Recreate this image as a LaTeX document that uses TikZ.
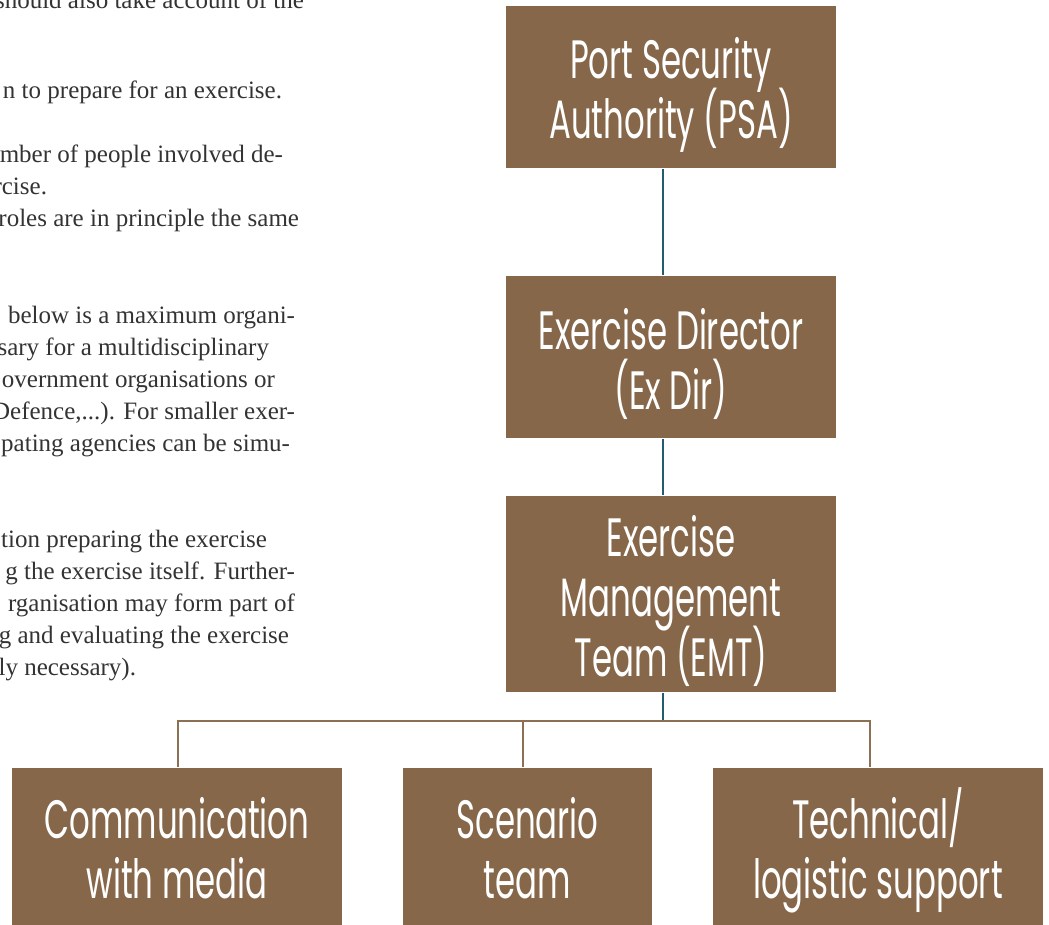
\documentclass[tikz,border=0pt]{standalone}
\usepackage{fontspec}
\setmainfont{Liberation Serif}
\newfontfamily\boxfont[FakeStretch=0.6]{Poppins}
\usetikzlibrary{calc,positioning}
\definecolor{boxbrown}{RGB}{134,103,74}
\definecolor{linkteal}{RGB}{35,92,112}
\definecolor{linkbrown}{RGB}{140,112,84}
% same line height in every box
\newcommand{\ls}{\rule[-16pt]{0pt}{76pt}}
\newcommand{\boxtext}{\boxfont\fontsize{54}{60}\selectfont\lineskiplimit-100pt\relax}

\begin{document}
\begin{tikzpicture}[x=1pt,y=-1pt,line width=2pt]
    \tikzstyle{box}=[rectangle, fill=boxbrown, text=white, inner sep=0pt, align=center, font=\boxtext]
    \tikzstyle{body}=[anchor=base east, inner sep=0pt, text=black!80, font=\fontsize{25}{32}\selectfont]
    \useasboundingbox (0,0) rectangle (1049,925);

    % page text cut off on the left
    \node[body] (t1)  at (305,9)   {should also take account of the};
    \node[body] (t2)  at (283,99)  {n to prepare for an exercise.};
    \node[body] (t3)  at (284,163) {mber of people involved de-};
    \node[body] (t4)  at (48,195)  {rcise.};
    \node[body] (t5)  at (300,227) {roles are in principle the same};
    \node[body] (t6)  at (296,323) {below is a maximum organi-};
    \node[body] (t7)  at (270,355) {sary for a multidisciplinary};
    \node[body] (t8)  at (276,387) {overnment organisations or};
    \node[body] (t9)  at (296,419) {Defence,...). For smaller exer-};
    \node[body] (t10) at (291,451) {pating agencies can be simu-};
    \node[body] (t11) at (268,547) {tion preparing the exercise};
    \node[body] (t12) at (296,579) {g the exercise itself. Further-};
    \node[body] (t13) at (296,611) {rganisation may form part of};
    \node[body] (t14) at (290,643) {g and evaluating the exercise};
    \node[body] (t15) at (137,675) {ly necessary).};

    % chart
    \node[box, minimum width=330pt, minimum height=162pt] (psa)   at (671,87)  {\ls Port Security\\Authority (PSA)\ls};
    \node[box, minimum width=330pt, minimum height=162pt] (exdir) at (671,357) {\ls Exercise Director\\(Ex Dir)\ls};
    \node[box, minimum width=330pt, minimum height=192pt] (emt)   at (671,594) {\ls Exercise\\Management\\Team (EMT)\ls};
    \node[box, minimum width=330pt, minimum height=157pt] (comm)  at (177,846.5) {\ls Communication\\with media\ls};
    \node[box, minimum width=249pt, minimum height=157pt] (scen)  at (527.5,846.5) {\ls Scenario\\team\ls};
    \node[box, minimum width=330pt, minimum height=157pt] (tech)  at (878,846.5) {\ls Technical/\\logistic support\ls};

    \coordinate (mid)   at (663,721);
    \coordinate (left)  at (178,721);
    \coordinate (centre) at (523,721);
    \coordinate (right) at (870,721);

    \draw[linkteal] (psa.south -| mid) -- (exdir.north -| mid);
    \draw[linkteal] (exdir.south -| mid) -- (emt.north -| mid);
    \draw[linkteal] (emt.south -| mid) -- (mid);
    \draw[linkbrown] (comm.north -| left) -- (left) -- (right) -- (tech.north -| right);
    \draw[linkbrown] (centre) -- (scen.north -| centre);

\end{tikzpicture}
\end{document}
